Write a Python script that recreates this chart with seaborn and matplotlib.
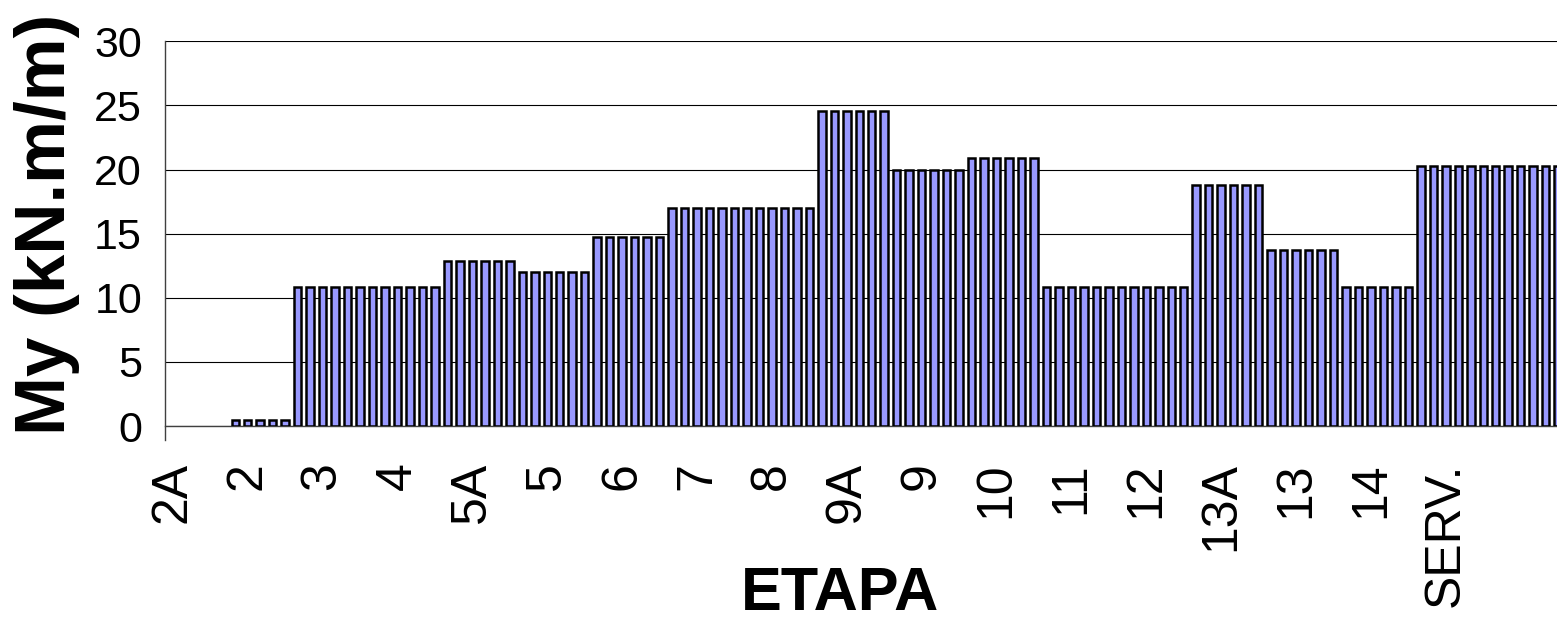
import numpy as np
import pandas as pd
import matplotlib
matplotlib.use('Agg')
import matplotlib.pyplot as plt
import seaborn as sns

# bending moment per construction step, one bar per row of the source sheet
stage_labels = ["2A", "2", "3", "4", "5A", "5", "6", "7", "8",
                "9A", "9", "10", "11", "12", "13A", "13", "14", "SERV."]

nan = np.nan
my_values = [
    nan, nan, nan, nan, nan, 0.5,
    0.5, 0.5, 0.5, 0.5, 10.8, 10.8,
    10.8, 10.8, 10.8, 10.8, 10.8, 10.8,
    10.8, 10.8, 10.8, 10.8, 12.9, 12.9,
    12.9, 12.9, 12.9, 12.9, 12.0, 12.0,
    12.0, 12.0, 12.0, 12.0, 14.7, 14.7,
    14.7, 14.7, 14.7, 14.7, 17.0, 17.0,
    17.0, 17.0, 17.0, 17.0, 17.0, 17.0,
    17.0, 17.0, 17.0, 17.0, 24.6, 24.6,
    24.6, 24.6, 24.6, 24.6, 20.0, 20.0,
    20.0, 20.0, 20.0, 20.0, 20.9, 20.9,
    20.9, 20.9, 20.9, 20.9, 10.8, 10.8,
    10.8, 10.8, 10.8, 10.8, 10.8, 10.8,
    10.8, 10.8, 10.8, 10.8, 18.8, 18.8,
    18.8, 18.8, 18.8, 18.8, 13.7, 13.7,
    13.7, 13.7, 13.7, 13.7, 10.8, 10.8,
    10.8, 10.8, 10.8, 10.8, 20.3, 20.3,
    20.3, 20.3, 20.3, 20.3, 20.3, 20.3,
    20.3, 20.3, 20.3, 20.3,
]
label_step = 6  # one label every 6 rows
y_ticks = [0, 5, 10, 15, 20, 25, 30]

sns.set_style('white')
fam = ['Liberation Sans', 'DejaVu Sans']
plt.rcParams['font.family'] = fam
plt.rcParams['text.color'] = 'black'
plt.rcParams['xtick.color'] = 'black'
plt.rcParams['ytick.color'] = 'black'

df = pd.DataFrame({'row': range(len(my_values)), 'My': my_values})
order = list(df['row'])
df = df.dropna()

W, H = 1557, 624
fig = plt.figure(figsize=(W / 100, H / 100), dpi=100)
ax = fig.add_axes([165 / W, (H - 426) / H, 1392 / W, 385 / H])

sns.barplot(data=df, x='row', y='My', order=order, color='#9999FF',
            saturation=1, edgecolor='black', linewidth=1.8, width=0.6,
            errorbar=None, ax=ax, zorder=3)

ax.set_xlim(-0.63, 110.91)
ax.set_ylim(0, 30.02)
ax.set_yticks(y_ticks)
ax.set_yticklabels([str(v) for v in y_ticks], fontsize=31)
ax.set_xticks(range(0, len(stage_labels) * label_step, label_step))
ax.set_xticklabels(stage_labels, rotation=90, fontsize=36, va='top')
ax.tick_params(axis='x', length=0, pad=26)
ax.tick_params(axis='y', length=7.5, width=0.8, color='black', pad=9, direction='out')

ax.grid(axis='y', color='black', linewidth=0.8)
ax.set_axisbelow(True)
for s in ['top', 'right']:
    ax.spines[s].set_visible(False)
ax.spines['left'].set_color('#404040')
ax.spines['left'].set_linewidth(1.0)
ax.spines['left'].set_bounds(-1.1, 30)
ax.spines['bottom'].set_color('#404040')
ax.spines['bottom'].set_linewidth(1.0)
ax.set_xlabel('')
ax.set_ylabel('')

fig.text(47 / W, 1 - 224 / H, 'My (kN.m/m)', rotation=90, ha='center', va='center',
         fontsize=51, fontweight='bold', family=fam)
fig.text(840 / W, 1 - 594 / H, 'ETAPA', ha='center', va='center',
         fontsize=44, fontweight='bold', family=fam)

fig.savefig('out.png', dpi=100)
